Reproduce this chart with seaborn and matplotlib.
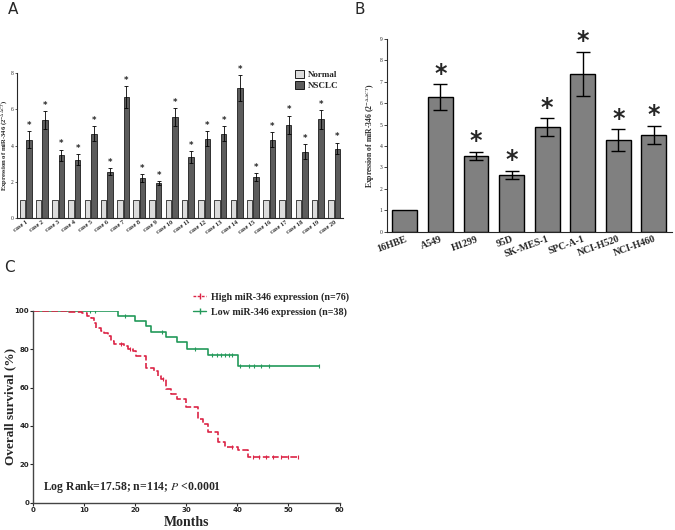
import numpy as np
import pandas as pd
import matplotlib
matplotlib.use("Agg")
import matplotlib.pyplot as plt
from matplotlib.lines import Line2D
from matplotlib.patches import Patch
import seaborn as sns

# ---------------- data ----------------
cases = [f"case {i}" for i in range(1, 21)]
normal_vals = [1.0] * 20
nsclc_vals = [4.33, 5.39, 3.46, 3.22, 4.66, 2.55, 6.66, 2.20, 1.94, 5.55,
              3.37, 4.37, 4.65, 7.17, 2.26, 4.33, 5.15, 3.65, 5.44, 3.83]
nsclc_err = [0.45, 0.50, 0.30, 0.30, 0.40, 0.20, 0.60, 0.22, 0.10, 0.50,
             0.32, 0.42, 0.42, 0.70, 0.22, 0.40, 0.50, 0.42, 0.52, 0.32]

cell_lines = ["16HBE", "A549", "H1299", "95D", "SK-MES-1", "SPC-A-1", "NCI-H520", "NCI-H460"]
cell_vals = [1.0, 6.29, 3.54, 2.66, 4.89, 7.38, 4.27, 4.52]
cell_err = [0.0, 0.60, 0.20, 0.19, 0.41, 1.03, 0.51, 0.42]
cell_sig = [False, True, True, True, True, True, True, True]

high_t = [0, 7, 9.5, 10.5, 11.4, 11.8, 12.3, 13.3, 13.9, 14.6, 15.2, 15.9, 17.8, 18.5, 19.5,
          20.2, 22.1, 23.6, 24.4, 25.1, 26.0, 27.0, 28.1, 30.0, 32.2, 33.3, 34.3, 36.2,
          37.5, 40.1, 42.1]
high_s = [100, 99.2, 98.7, 97.4, 96.1, 93.4, 90.8, 89.5, 88.2, 86.8, 84.2, 82.9, 81.6, 80.3, 78.9,
          76.3, 70.0, 68.4, 65.8, 64.5, 59.2, 56.6, 54.0, 50.0, 43.4, 40.8, 36.8, 31.6,
          28.9, 27.6, 23.7]
high_end = 52
high_cens = [17.2, 19.0, 25.5, 39.0, 43.0, 44.2, 45.5, 47.0, 48.5, 50.0, 51.8]

low_t = [0, 16.6, 20.0, 22.1, 23.1, 26.1, 28.1, 30.2, 34.2, 40.1]
low_s = [100, 97.4, 94.7, 92.1, 89.1, 86.3, 83.5, 80.1, 77.0, 71.0]
low_end = 56
low_cens = [11.1, 12.1, 18.0, 25.2, 31.7, 35.1, 35.9, 36.7, 37.5, 38.3, 39.0,
            40.6, 42.2, 43.3, 44.6, 46.1, 56.0]

# ---------------- style ----------------
sns.set_theme(style="ticks")
plt.rcParams["font.family"] = ["Liberation Serif", "DejaVu Serif"]
plt.rcParams["mathtext.fontset"] = "stix"
plt.rcParams["axes.linewidth"] = 0.8

W, H = 675, 530
fig = plt.figure(figsize=(W / 100, H / 100), dpi=100)

def fx(px):
    return px / W

def fy(py):
    return 1 - py / H

# ---------------- Panel A ----------------
axA = fig.add_axes([fx(17), fy(218), fx(343 - 17), (218 - 73) / H])
dfA = pd.DataFrame({
    "case": cases * 2,
    "value": normal_vals + nsclc_vals,
    "group": ["Normal"] * 20 + ["NSCLC"] * 20,
})
sns.barplot(data=dfA, x="case", y="value", hue="group", order=cases,
            hue_order=["Normal", "NSCLC"],
            palette={"Normal": "#dcdcdc", "NSCLC": "#5c5c5c"},
            gap=0.15, edgecolor="black", linewidth=0.5, errorbar=None,
            ax=axA, legend=False)
bars_n = axA.containers[1]
xc = [b.get_x() + b.get_width() / 2 for b in bars_n]
axA.errorbar(xc, nsclc_vals, yerr=nsclc_err, fmt="none", ecolor="black",
             elinewidth=0.6, capsize=1.5, capthick=0.6)
for x, v, e in zip(xc, nsclc_vals, nsclc_err):
    axA.annotate("*", (x, v + e), xytext=(0, 1), textcoords="offset points",
                 ha="center", va="bottom", fontsize=6, fontweight="bold",
                 family="DejaVu Sans")
axA.set_ylim(0, 8)
axA.set_yticks([0, 2, 4, 6, 8])
axA.set_xlim(-0.53, 19.55)
axA.set_xlabel("")
axA.set_ylabel(r"Expression of miR-346 (2$^{-\Delta\Delta CT}$)", fontsize=4.8,
               fontweight="bold")
axA.yaxis.set_label_coords((10 - 17) / 326, 0.5)
axA.tick_params(axis="y", labelsize=4, length=1.5, width=0.5, pad=1)
axA.tick_params(axis="x", labelsize=4.5, length=0, pad=1)
for lab in axA.get_xticklabels():
    lab.set_rotation(35)
    lab.set_ha("right")
    lab.set_rotation_mode("anchor")
    lab.set_fontweight("bold")
sns.despine(ax=axA)
axA.legend(handles=[Patch(facecolor="#dcdcdc", edgecolor="black", linewidth=0.6, label="Normal"),
                    Patch(facecolor="#5c5c5c", edgecolor="black", linewidth=0.6, label="NSCLC")],
           loc="upper left", bbox_to_anchor=(fx(287), fy(62)), bbox_transform=fig.transFigure,
           frameon=False, handlelength=1.0, handleheight=1.0, handletextpad=0.4,
           labelspacing=0.2, prop={"size": 6.5, "weight": "bold"})

# ---------------- Panel B ----------------
axB = fig.add_axes([fx(386.7), fy(231.7), fx(672 - 386.7), (231.7 - 39) / H])
dfB = pd.DataFrame({"line": cell_lines, "value": cell_vals})
sns.barplot(data=dfB, x="line", y="value", order=cell_lines, color="#808080",
            saturation=1, edgecolor="black", linewidth=1.0, errorbar=None,
            width=0.7, ax=axB)
xb = [b.get_x() + b.get_width() / 2 for b in axB.containers[0]]
axB.errorbar(xb[1:], cell_vals[1:], yerr=cell_err[1:], fmt="none", ecolor="black",
             elinewidth=1.0, capsize=5, capthick=1.0)
for x, v, e, s in zip(xb, cell_vals, cell_err, cell_sig):
    if s:
        axB.annotate("*", (x, v + e), xytext=(0, -1), textcoords="offset points",
                     ha="center", va="bottom", fontsize=17, fontweight="bold",
                     family="DejaVu Sans")
axB.set_ylim(0, 9)
axB.set_yticks(range(0, 10))
axB.set_xlim(-0.51, 7.51)
axB.set_xlabel("")
axB.set_ylabel(r"Expression of miR-346 (2$^{-\Delta\Delta CT}$)", fontsize=5.5,
               fontweight="bold")
axB.yaxis.set_label_coords((377 - 386.7) / 285.3, 0.5)
axB.tick_params(axis="y", labelsize=4, length=2, width=0.6, pad=1)
axB.tick_params(axis="x", labelsize=7.2, length=0, pad=2)
for lab in axB.get_xticklabels():
    lab.set_rotation(20)
    lab.set_ha("right")
    lab.set_rotation_mode("anchor")
    lab.set_fontweight("bold")
sns.despine(ax=axB)

# ---------------- Panel C ----------------
axC = fig.add_axes([fx(33.3), fy(502.7), fx(339.5 - 33.3), (502.7 - 310.7) / H])
red, green = "#dc2446", "#23995a"

def step_frame(t, s, end):
    return pd.DataFrame({"t": list(t) + [end], "s": list(s) + [s[-1]]})

def surv_at(t, s, c):
    idx = np.searchsorted(np.array(t), np.array(c), side="right") - 1
    return np.array(s)[idx]

dh = step_frame(high_t, high_s, high_end)
dl = step_frame(low_t, low_s, low_end)
sns.lineplot(data=dl, x="t", y="s", drawstyle="steps-post", estimator=None, sort=False,
             color=green, linewidth=1.2, ax=axC)
sns.lineplot(data=dh, x="t", y="s", drawstyle="steps-post", estimator=None, sort=False,
             color=red, linewidth=1.2, linestyle=(0, (4, 1.5)), ax=axC)
axC.plot(low_cens, surv_at(low_t, low_s, low_cens), linestyle="none", marker="|",
         markersize=3.5, markeredgewidth=0.8, color=green)
axC.plot(high_cens, surv_at(high_t, high_s, high_cens), linestyle="none", marker="|",
         markersize=3.5, markeredgewidth=0.8, color=red)
axC.set_xlim(0, 60)
axC.set_ylim(0, 100)
axC.set_xticks(range(0, 61, 10))
axC.set_yticks(range(0, 101, 20))
axC.tick_params(labelsize=5, length=2, width=0.8, pad=1)
for lab in axC.get_xticklabels() + axC.get_yticklabels():
    lab.set_fontweight("bold")
    lab.set_family("DejaVu Sans")
axC.set_xlabel("Months", fontsize=10, fontweight="bold", labelpad=2)
axC.set_ylabel("Overall survival (%)", fontsize=9.5, fontweight="bold")
axC.yaxis.set_label_coords((16 - 33.3) / 306.2, 0.5)
sns.despine(ax=axC)
for sp in axC.spines.values():
    sp.set_color("#444444")
    sp.set_linewidth(1.0)

fig.text(fx(43), fy(487), r"Log Rank=17.58; n=114; $\mathit{P}$ <0.0001", fontsize=8.5,
         fontweight="bold", va="center", ha="left")

fig.legend(handles=[Line2D([], [], color=red, linestyle=(0, (2, 1)), marker="|", markersize=4,
                           linewidth=1.0, label="High miR-346 expression (n=76)"),
                    Line2D([], [], color=green, marker="|", markersize=4, linewidth=1.0,
                           label="Low miR-346 expression (n=38)")],
           loc="upper left", bbox_to_anchor=(fx(184), fy(283)), frameon=False,
           handlelength=1.3, handletextpad=0.5, labelspacing=0.55, numpoints=1,
           prop={"size": 7.2, "weight": "bold"})

# ---------------- panel letters ----------------
for lbl, x, y in [("A", 8, 10), ("B", 355, 10), ("C", 4, 268)]:
    fig.text(fx(x), fy(y), lbl, fontsize=11, family="DejaVu Sans", va="center", ha="left")

fig.savefig("out.png", dpi=100)
